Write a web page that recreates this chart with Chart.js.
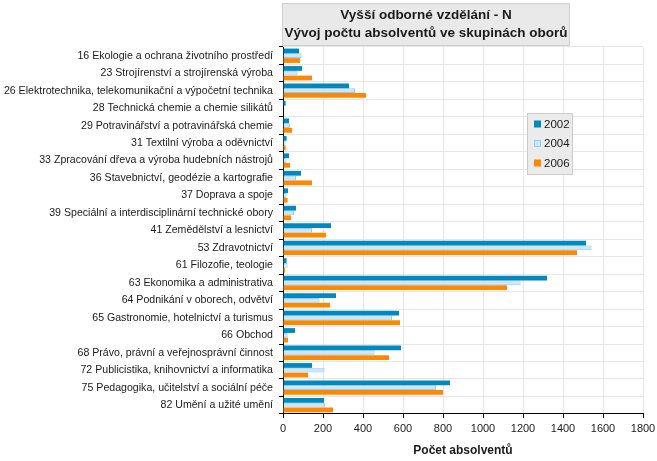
<!DOCTYPE html>
<html>
<head>
<meta charset="utf-8">
<script src="https://cdn.jsdelivr.net/npm/chart.js@4/dist/chart.umd.min.js"></script>
<style>
html,body{margin:0;padding:0;background:#fff;}
canvas{display:block;}
</style>
</head>
<body>
<canvas id="c" width="657" height="461"></canvas>
<script>
const categories = [
  "16 Ekologie a ochrana životního prostředí",
  "23 Strojírenství a strojírenská výroba",
  "26 Elektrotechnika, telekomunikační a výpočetní technika",
  "28 Technická chemie a chemie silikátů",
  "29 Potravinářství a potravinářská chemie",
  "31 Textilní výroba a oděvnictví",
  "33 Zpracování dřeva a výroba hudebních nástrojů",
  "36 Stavebnictví, geodézie a kartografie",
  "37 Doprava a spoje",
  "39 Speciální a interdisciplinární technické obory",
  "41 Zemědělství a lesnictví",
  "53 Zdravotnictví",
  "61 Filozofie, teologie",
  "63 Ekonomika a administrativa",
  "64 Podnikání v oborech, odvětví",
  "65 Gastronomie, hotelnictví a turismus",
  "66 Obchod",
  "68 Právo, právní a veřejnosprávní činnost",
  "72 Publicistika, knihovnictví a informatika",
  "75 Pedagogika, učitelství a sociální péče",
  "82 Umění a užité umění"
];
const years = ["2002", "2004", "2006"];
const values2002 = [80, 95, 330, 13, 30, 18, 30, 90, 25, 65, 240, 1515, 18, 1320, 265, 580, 60, 590, 145, 835, 205];
const values2004 = [93, 73, 360, 0, 35, 13, 18, 65, 18, 55, 145, 1543, 23, 1188, 183, 545, 23, 458, 208, 765, 210];
const values2006 = [85, 145, 415, 0, 45, 13, 35, 145, 23, 40, 215, 1470, 10, 1120, 235, 585, 25, 530, 125, 800, 250];
const xTicks = [0, 200, 400, 600, 800, 1000, 1200, 1400, 1600, 1800];
const titleLines = ["Vyšší odborné vzdělání - N", "Vývoj počtu absolventů ve skupinách oborů"];
const xTitle = "Počet absolventů";

const FONT = "'Liberation Sans', Arial, sans-serif";

const titleBoxPlugin = {
  id: 'titleBox',
  afterDraw(chart) {
    const ctx = chart.ctx;
    const ca = chart.chartArea;
    const x0 = ca.left - 1, x1 = 570, y0 = 3, y1 = 46;
    ctx.save();
    ctx.fillStyle = '#E9E9E9';
    ctx.strokeStyle = '#CFCFCF';
    ctx.lineWidth = 1;
    ctx.fillRect(x0, y0, x1 - x0, y1 - y0);
    ctx.strokeRect(x0 + 0.5, y0 + 0.5, x1 - x0 - 1, y1 - y0 - 1);
    ctx.fillStyle = '#1a1a1a';
    ctx.font = "bold 13.5px " + FONT;
    ctx.textAlign = 'center';
    ctx.textBaseline = 'middle';
    const cx = (x0 + x1) / 2;
    ctx.fillText(titleLines[0], cx, 15);
    ctx.fillText(titleLines[1], cx, 33);
    ctx.restore();
  }
};

const legendBoxPlugin = {
  id: 'legendBox',
  afterDraw(chart) {
    const ctx = chart.ctx;
    const ca = chart.chartArea;
    const bx = ca.right - 116, by = ca.top + 66, bw = 46, bh = 62;
    ctx.save();
    ctx.fillStyle = '#EBEBEB';
    ctx.strokeStyle = '#CCCCCC';
    ctx.fillRect(bx, by, bw, bh);
    ctx.strokeRect(bx + 0.5, by + 0.5, bw - 1, bh - 1);
    ctx.font = "11.5px " + FONT;
    ctx.textBaseline = 'middle';
    ctx.textAlign = 'left';
    chart.data.datasets.forEach((ds, i) => {
      const yy = by + 11 + i * 19.5;
      ctx.fillStyle = ds.backgroundColor;
      ctx.fillRect(bx + 7, yy - 3.5, 7, 7);
      if (ds.borderWidth) {
        ctx.strokeStyle = ds.borderColor;
        ctx.strokeRect(bx + 7.5, yy - 3, 6, 6);
      }
      ctx.fillStyle = '#1a1a1a';
      ctx.fillText(ds.label, bx + 17, yy + 0.5);
    });
    ctx.restore();
  }
};

new Chart(document.getElementById('c'), {
  type: 'bar',
  data: {
    labels: categories,
    datasets: [
      { label: years[0], data: values2002, backgroundColor: '#0089BF', borderWidth: 0 },
      { label: years[1], data: values2004, backgroundColor: '#CCE6FA', borderColor: '#99CBF2', borderWidth: 1 },
      { label: years[2], data: values2006, backgroundColor: '#FF8800', borderWidth: 0 }
    ]
  },
  options: {
    indexAxis: 'y',
    responsive: false,
    animation: false,
    devicePixelRatio: 1,
    layout: { padding: { top: 47, right: 0, bottom: 2, left: 0 } },
    datasets: { bar: { categoryPercentage: 0.82, barPercentage: 1.0 } },
    plugins: {
      legend: { display: false },
      title: { display: false },
      tooltip: { enabled: false }
    },
    scales: {
      x: {
        type: 'linear',
        min: xTicks[0],
        max: xTicks[xTicks.length - 1],
        afterBuildTicks(scale) { scale.ticks = xTicks.map(v => ({ value: v })); },
        afterFit(scale) { scale.paddingRight = 14; },
        ticks: { color: '#1a1a1a', font: { family: FONT, size: 11 }, padding: 4, callback: v => String(v) },
        grid: { color: '#E6E6E6', tickColor: '#000', tickLength: 4, lineWidth: 1 },
        border: { color: '#000', width: 1 },
        title: { display: true, text: xTitle, color: '#1a1a1a', font: { family: FONT, size: 12, weight: 'bold' }, padding: { top: 4.5, bottom: 1 } }
      },
      y: {
        type: 'category',
        offset: true,
        afterFit(scale) { scale.width = 283; },
        ticks: { color: '#1a1a1a', font: { family: FONT, size: 10.6 }, padding: 6, autoSkip: false },
        grid: { offset: true, color: '#E6E6E6', tickColor: '#000', tickLength: 4, lineWidth: 1 },
        border: { color: '#000', width: 1 }
      }
    }
  },
  plugins: [titleBoxPlugin, legendBoxPlugin]
});
</script>
</body>
</html>
